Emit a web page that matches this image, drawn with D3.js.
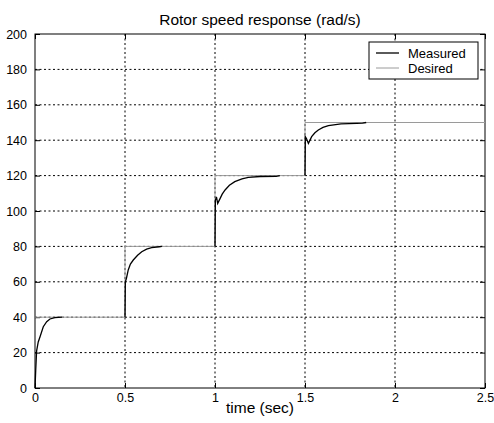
<!DOCTYPE html>
<html><head><meta charset="utf-8">
<script src="https://cdn.jsdelivr.net/npm/d3@7"></script>
<style>body{margin:0;background:#fff}svg text{font-family:"Liberation Sans",Arial,sans-serif;fill:#000}</style>
</head><body>
<svg id="c" width="494" height="423"></svg>
<script>
const chartTitle = "Rotor speed response (rad/s)";
const xLabel = "time (sec)";
const xTicks = [0, 0.5, 1, 1.5, 2, 2.5];
const xTickLabels = ["0", "0.5", "1", "1.5", "2", "2.5"];
const yTicks = [0, 20, 40, 60, 80, 100, 120, 140, 160, 180, 200];
const seriesNames = ["Measured", "Desired"];
const desiredTime = [0, 0.5, 1, 1.5, 2.5];
const desiredSpeed = [40, 80, 120, 150, 150];
const measuredTime = [0, 0.004, 0.009, 0.018, 0.028, 0.046, 0.065, 0.083, 0.11, 0.15, 0.5,
  0.502, 0.508, 0.518, 0.53, 0.546, 0.57, 0.593, 0.62, 0.648, 0.69, 0.705, 1.0,
  1.002, 1.008, 1.015, 1.028, 1.04, 1.056, 1.08, 1.11, 1.15, 1.185, 1.25, 1.34, 1.36, 1.5,
  1.502, 1.508, 1.519, 1.537, 1.555, 1.574, 1.6, 1.63, 1.7, 1.787, 1.82, 1.84, 2.5];
const measuredSpeed = [0, 10, 21, 26, 29, 34.6, 37.5, 39, 39.8, 40, 40,
  60, 62, 66.7, 70, 72.3, 75, 77, 78.5, 79.3, 79.8, 80, 80,
  106, 108, 104.3, 107, 109.5, 111.9, 114.5, 116.6, 118.2, 119, 119.5, 119.6, 120, 120,
  142, 141, 138.2, 142, 144.2, 145.8, 147.2, 148.2, 149.2, 149.5, 149.6, 150, 150];

const svg = d3.select("#c");
const L = 35, R = 485, T = 34, B = 388;
const x = d3.scaleLinear().domain([0, 2.5]).range([L, R]);
const y = d3.scaleLinear().domain([0, 200]).range([B, T]);

// grid
const g = svg.append("g");
g.selectAll(".gx").data(xTicks.slice(1, -1)).enter().append("line")
  .attr("x1", d => x(d)).attr("x2", d => x(d)).attr("y1", T).attr("y2", B)
  .attr("stroke", "#000").attr("stroke-width", 1).attr("stroke-dasharray", "2,2.5");
g.selectAll(".gy").data(yTicks.slice(1, -1)).enter().append("line")
  .attr("y1", d => y(d)).attr("y2", d => y(d)).attr("x1", L).attr("x2", R)
  .attr("stroke", "#000").attr("stroke-width", 1).attr("stroke-dasharray", "2,2.5");

// axes
const xb = svg.append("g").attr("transform", `translate(0,${B})`)
  .call(d3.axisBottom(x).tickValues(xTicks).tickFormat((d, i) => xTickLabels[i]).tickSizeInner(-5).tickSizeOuter(0).tickPadding(5));
const xt = svg.append("g").attr("transform", `translate(0,${T})`)
  .call(d3.axisTop(x).tickValues(xTicks).tickFormat("").tickSizeInner(-5).tickSizeOuter(0));
const yl = svg.append("g").attr("transform", `translate(${L},0)`)
  .call(d3.axisLeft(y).tickValues(yTicks).tickSizeInner(-5).tickSizeOuter(0).tickPadding(8));
const yr = svg.append("g").attr("transform", `translate(${R},0)`)
  .call(d3.axisRight(y).tickValues(yTicks).tickFormat("").tickSizeInner(-5).tickSizeOuter(0));
[xb, xt, yl, yr].forEach(a => { a.select(".domain").remove(); a.selectAll("line").attr("stroke", "#000"); });
svg.selectAll(".tick text").attr("font-size", 12.5).attr("font-family", "Liberation Sans, Arial, sans-serif");

svg.append("rect").attr("x", L).attr("y", T).attr("width", R - L).attr("height", B - T)
  .attr("fill", "none").attr("stroke", "#000").attr("stroke-width", 1);

// lines
const desiredAt = t => { let v = desiredSpeed[0]; desiredTime.forEach((dt, i) => { if (t >= dt) v = desiredSpeed[i]; }); return v; };
const mData = measuredTime.map((t, i) => [t, measuredSpeed[i]]);
const dData = desiredTime.map((t, i) => [t, desiredSpeed[i]]);
// measured: drawn where it departs from the set-point (hidden under desired once settled)
const chunks = [];
let cur = [mData[0]];
for (let i = 1; i < mData.length; i++) {
  const p = mData[i - 1], q = mData[i];
  const flat = p[1] === q[1] && p[1] === desiredAt(p[0]);
  if (flat) { if (cur.length > 1) chunks.push(cur); cur = [q]; }
  else cur.push(q);
}
if (cur.length > 1) chunks.push(cur);
const line = d3.line().x(d => x(d[0])).y(d => y(d[1]));
svg.append("path").datum(dData).attr("fill", "none").attr("stroke", "#9a9a9a").attr("stroke-width", 1)
  .attr("d", d3.line().curve(d3.curveStepAfter).x(d => x(d[0])).y(d => y(d[1])));
svg.selectAll(".m").data(chunks).enter().append("path").attr("fill", "none").attr("stroke", "#000").attr("stroke-width", 1.3)
  .attr("d", line);

// title and labels
svg.append("text").attr("x", (L + R) / 2).attr("y", 25).attr("text-anchor", "middle").attr("font-size", 15.5).text(chartTitle);
svg.append("text").attr("x", (L + R) / 2).attr("y", 413).attr("text-anchor", "middle").attr("font-size", 15.5).text(xLabel);

// legend
const lg = svg.append("g");
lg.append("rect").attr("x", 369).attr("y", 42).attr("width", 109).attr("height", 37)
  .attr("fill", "#fff").attr("stroke", "#000");
const lcol = ["#000", "#9a9a9a"];
seriesNames.forEach((n, i) => {
  const yy = 53 + i * 15;
  lg.append("line").attr("x1", 376).attr("x2", 399).attr("y1", yy).attr("y2", yy).attr("stroke", lcol[i]).attr("stroke-width", i ? 1 : 1.3);
  lg.append("text").attr("x", 408).attr("y", yy + 4.5).attr("font-size", 13).text(n);
});
</script>
</body></html>
